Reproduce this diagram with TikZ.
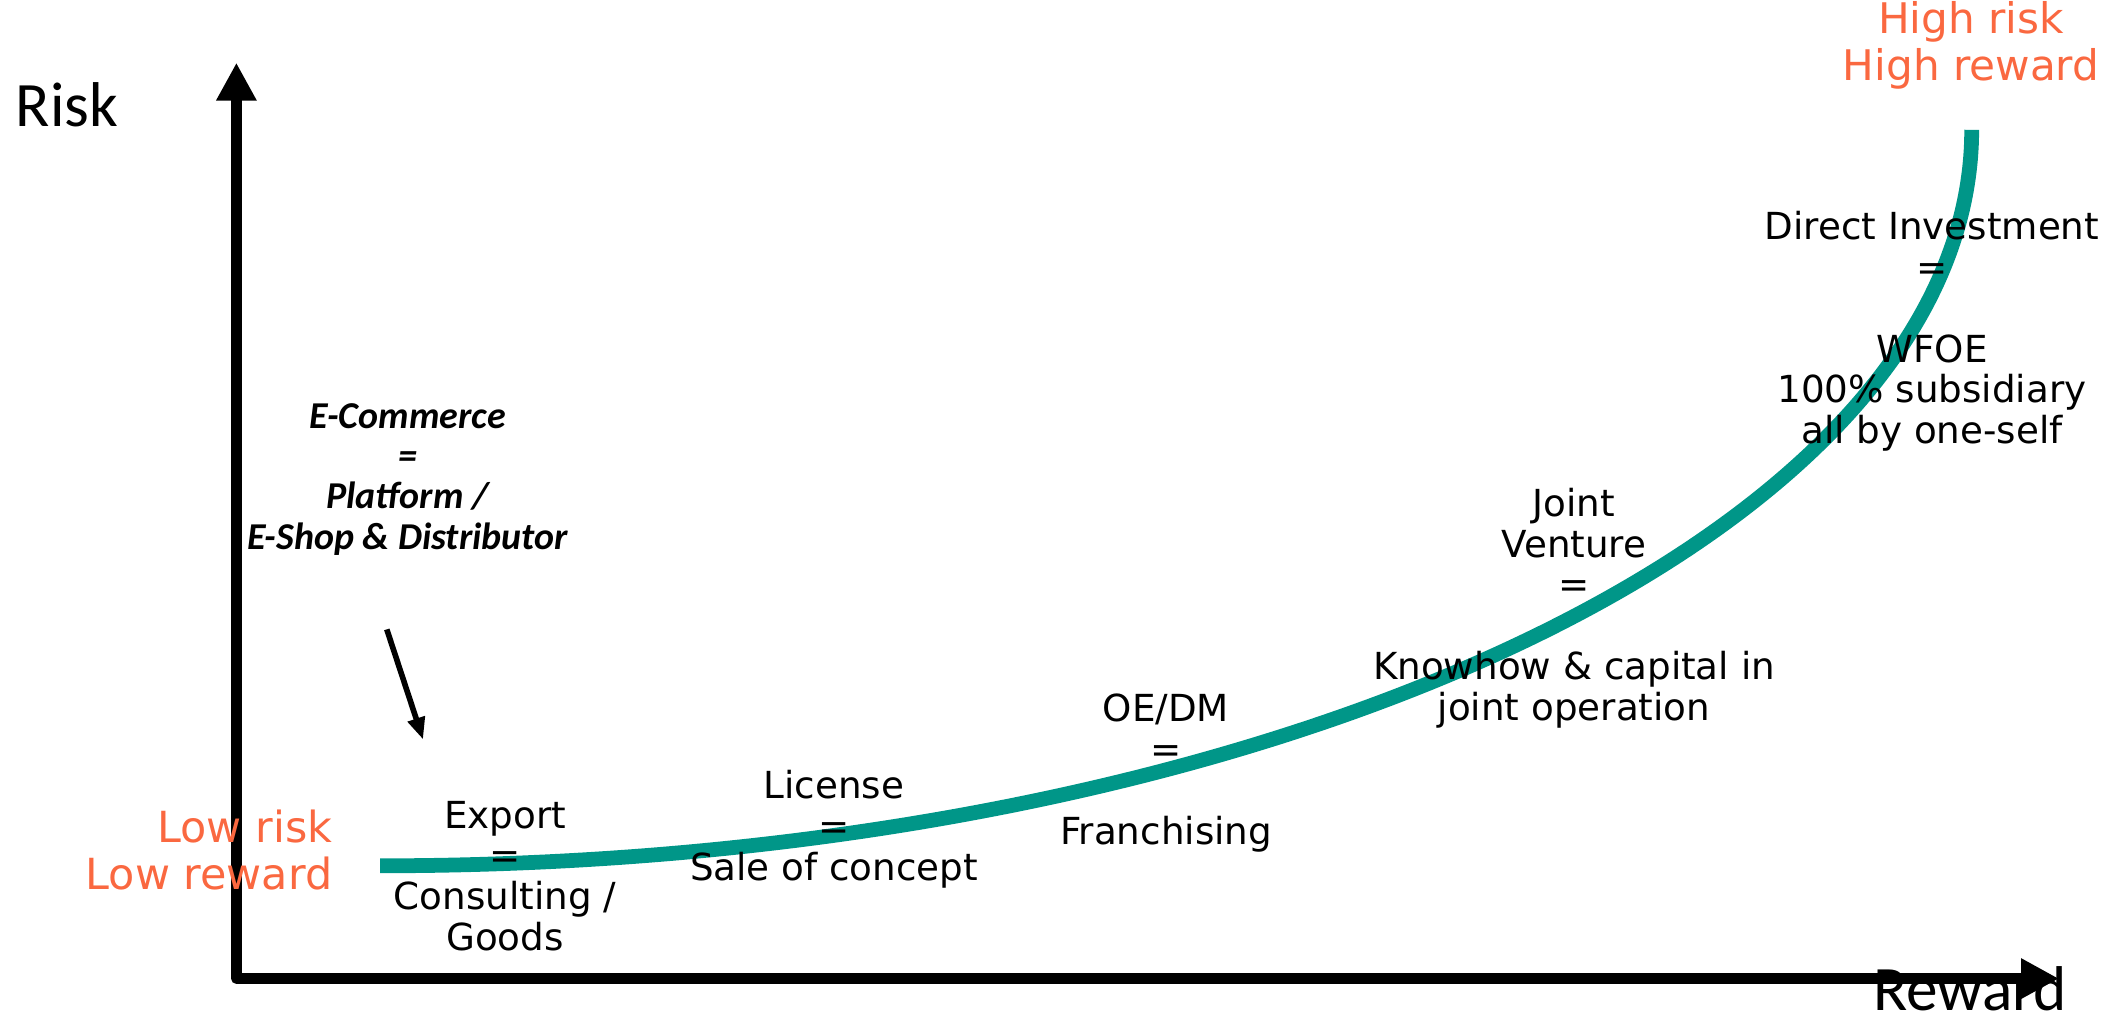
\documentclass[tikz,border=0pt]{standalone}
\usepackage{fontspec}
\setmainfont{DejaVu Sans}
\newfontfamily\carlito{Carlito}
\usetikzlibrary{arrows.meta}
\definecolor{curveteal}{RGB}{0,150,136}
\definecolor{riskorange}{RGB}{250,104,64}

\begin{document}
\begin{tikzpicture}[
    modetext/.style={inner sep=0pt, align=center, font=\fontsize{10.6}{11.6}\selectfont},
    axislabel/.style={inner sep=0pt, font=\carlito\fontsize{18}{20}\selectfont},
    cornertext/.style={inner sep=0pt, text=riskorange},
    axisline/.style={line width=3pt, line cap=round, line join=round},
  ]
    \useasboundingbox (0,0) rectangle (21.06,10.27);
    %% Draw the axes
    \coordinate (O) at (2.364,0.484);
    \coordinate (Ytip) at (2.364,9.643);
    \coordinate (Xtip) at (20.59,0.484);
    \draw[axisline, {Triangle[length=0.38cm,width=0.38cm]}-{Triangle[length=0.38cm,width=0.38cm]}] (Ytip) -- (O) -- (Xtip);
    \node[axislabel, anchor=base] (risk) at (0.67,9.0) {Risk};
    \node[axislabel, anchor=base] (reward) at (19.70,0.17) {Reward};
    %% Draw the curve
    \coordinate (low) at (3.801,1.612);
    \coordinate (high) at (19.717,8.972);
    \draw[line width=4.2pt, curveteal] (low) .. controls (12.585,1.612) and (19.717,4.909) .. (high);
    %% Draw the end labels
    \node[cornertext, align=center, font=\fontsize{12}{13.4}\selectfont] (hi) at (19.71,9.82) {High risk\\High reward};
    \node[cornertext, align=right, anchor=east, font=\fontsize{12.2}{13.2}\selectfont] (lo) at (3.33,1.77) {Low risk\\Low reward};
    %% Draw the entry modes
    \node[modetext] (export) at (5.05,1.51) {Export\\=\\Consulting /\\Goods};
    \node[modetext] (license) at (8.34,1.98) {License\\=\\Sale of concept};
    \node[modetext] (oedm) at (11.66,2.54) {OE/DM\\=\\[11.6pt]Franchising};
    \node[modetext] (jv) at (15.74,4.19) {Joint\\Venture\\=\\[11.6pt]Knowhow \& capital in\\joint operation};
    \node[modetext] (di) at (19.32,6.955) {Direct Investment\\=\\[11.6pt]WFOE\\100\% subsidiary\\all by one-self};
    \node[modetext, font=\carlito\bfseries\itshape\fontsize{10.8}{11.4}\selectfont] (ecom) at (4.075,5.475) {E-Commerce\\=\\Platform /\\E-Shop \& Distributor};
    %% Draw the pointer
    \coordinate (ecfrom) at (3.868,3.976);
    \coordinate (ecto) at (4.231,2.874);
    \draw[line width=1.6pt, -{Triangle[length=0.22cm,width=0.17cm]}] (ecfrom) -- (ecto);
  \end{tikzpicture}
\end{document}
